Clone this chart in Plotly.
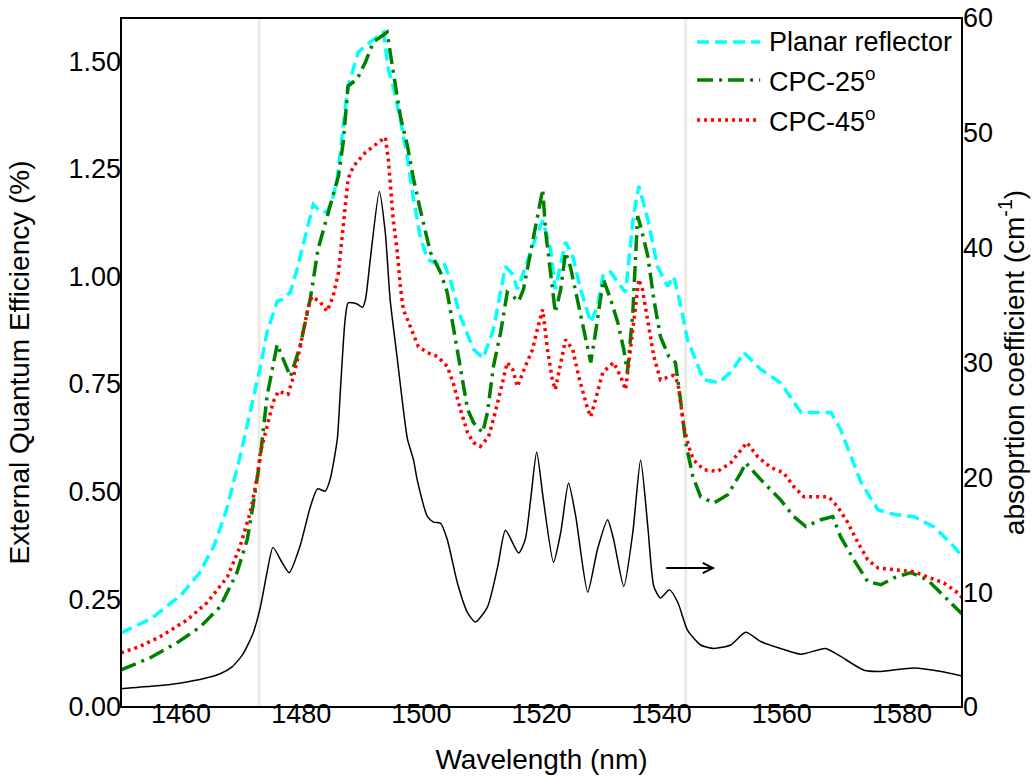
import plotly.graph_objects as go

# ---------------- data ----------------
wl_planar = [1450, 1455, 1460, 1463, 1465.5, 1467.5, 1469.8, 1471.5, 1473.2, 1474.3,
             1476, 1476.8, 1478.2, 1479.3, 1481, 1482, 1483.2, 1484.3, 1485.2, 1486,
             1487.7, 1488.2, 1489.5, 1491.5, 1493.7, 1494.5, 1495.3, 1496.5, 1497.7, 1498.7,
             1499.8, 1501, 1502.7, 1503.7, 1504.8, 1506.5, 1508.7, 1510.3, 1512, 1514,
             1515.2, 1516, 1517.7, 1519.3, 1520.2, 1521.5, 1522.3, 1524, 1525.2, 1526.5,
             1528.2, 1529.3, 1530.3, 1531.5, 1532.7, 1534, 1535.3, 1536.2, 1537.7, 1539.3,
             1541, 1542, 1543.2, 1544.3, 1547, 1549.5, 1551.5, 1553.7, 1556.5, 1559.8,
             1563.2, 1566, 1568.2, 1569.8, 1573.2, 1576, 1578.7, 1582, 1585.3, 1588.7, 1590]
eqe_planar = [0.172, 0.205, 0.26, 0.31, 0.375, 0.455, 0.58, 0.684, 0.79, 0.87,
              0.942, 0.946, 0.963, 1.016, 1.116, 1.167, 1.151, 1.149, 1.179, 1.226,
              1.435, 1.458, 1.521, 1.544, 1.567, 1.481, 1.442, 1.365, 1.272, 1.179,
              1.093, 1.040, 1.028, 1.033, 0.993, 0.907, 0.83, 0.81, 0.877, 1.023,
              1.005, 0.97, 1.04, 1.10, 1.13, 1.063, 0.97, 1.08, 1.047, 0.97,
              0.893, 0.93, 1.005, 1.01, 0.986, 0.963, 1.14, 1.21, 1.133, 1.023,
              0.977, 1.0, 0.93, 0.853, 0.76, 0.753, 0.777, 0.823, 0.784, 0.753,
              0.684, 0.684, 0.684, 0.644, 0.521, 0.458, 0.447, 0.442, 0.419, 0.372, 0.35]

wl_cpc25 = [1450, 1454.8, 1459.3, 1463.2, 1466.5, 1469.3, 1471, 1472, 1473.2, 1474.3,
            1476, 1477, 1478.2, 1479.8, 1481.5, 1482.8, 1484.8, 1486.2, 1487, 1487.8,
            1489.3, 1490.7, 1492, 1494.3, 1494.8, 1496.5, 1497.7, 1498.7, 1499.8, 1501.5,
            1503.2, 1504.3, 1505.3, 1506.5, 1507.7, 1508.7, 1510.2, 1511, 1512, 1513.2,
            1514.3, 1515.3, 1516.2, 1517, 1518.2, 1519.3, 1520.2, 1520.7, 1521.5, 1522.3,
            1523.2, 1524, 1524.8, 1526, 1527.3, 1528.2, 1529, 1529.8, 1530.3, 1531.5,
            1532.7, 1533.7, 1534.3, 1535.2, 1536, 1536.5, 1537.7, 1538.7, 1539.8, 1541.2,
            1542.3, 1543.2, 1544, 1545.2, 1546.5, 1548.7, 1551, 1553.2, 1554, 1556.5,
            1559.8, 1562, 1564, 1566.5, 1568.5, 1569.8, 1572, 1574.3, 1576.5, 1578.7,
            1581.5, 1584.3, 1586.5, 1590]
eqe_cpc25 = [0.086, 0.114, 0.149, 0.186, 0.233, 0.312, 0.388, 0.47, 0.581, 0.721,
             0.842, 0.807, 0.767, 0.837, 0.947, 1.063, 1.163, 1.233, 1.312, 1.442,
             1.458, 1.498, 1.544, 1.567, 1.521, 1.372, 1.302, 1.226, 1.156, 1.056,
             1.009, 0.963, 0.884, 0.791, 0.691, 0.66, 0.637, 0.684, 0.791, 0.87,
             0.963, 0.953, 0.942, 0.97, 1.056, 1.14, 1.202, 1.102, 1.009, 0.916,
             0.97, 1.056, 1.023, 0.947, 0.86, 0.8, 0.87, 0.953, 0.993, 0.947,
             0.893, 0.83, 0.777, 0.916, 1.14, 1.116, 1.047, 0.947, 0.86, 0.814,
             0.8, 0.707, 0.614, 0.535, 0.488, 0.474, 0.493, 0.544, 0.567, 0.528,
             0.481, 0.442, 0.419, 0.435, 0.442, 0.395, 0.342, 0.291, 0.284, 0.3,
             0.312, 0.295, 0.265, 0.216]

wl_cpc45 = [1450, 1453, 1456.5, 1461, 1464.3, 1467.7, 1469.8, 1471.5, 1472.7, 1473.2,
            1474.3, 1475.3, 1476.2, 1477.8, 1478.7, 1479.5, 1480.3, 1481.2, 1481.8, 1483.2,
            1484.3, 1485.3, 1486.2, 1486.8, 1487.3, 1487.8, 1488.7, 1490.7, 1492, 1494,
            1494.5, 1494.8, 1495.3, 1496, 1496.5, 1497, 1498.2, 1499.5, 1501, 1502.7,
            1504.3, 1505.3, 1506.5, 1507.7, 1508.7, 1509.8, 1511.2, 1512.3, 1513.5, 1514.3,
            1515.2, 1516, 1517.3, 1518.5, 1519.3, 1520.2, 1521, 1521.8, 1522.3, 1523.2,
            1524, 1525.2, 1526.2, 1527.7, 1528.2, 1529, 1530.2, 1532, 1533.2, 1534,
            1534.8, 1535.7, 1536.2, 1536.8, 1537.7, 1538.7, 1539.8, 1542, 1542.7, 1543.2,
            1543.7, 1544.5, 1545.3, 1547, 1549.3, 1551.5, 1553.2, 1554.2, 1556, 1558.2,
            1560.3, 1562, 1563.7, 1566.5, 1567.8, 1569.3, 1571, 1572.7, 1574.3, 1576,
            1578.7, 1582, 1584.3, 1587, 1589.3, 1590]
eqe_cpc45 = [0.126, 0.14, 0.163, 0.202, 0.242, 0.302, 0.372, 0.451, 0.535, 0.591,
             0.651, 0.707, 0.733, 0.726, 0.767, 0.814, 0.87, 0.93, 0.953, 0.94,
             0.919, 0.953, 1.009, 1.086, 1.156, 1.226, 1.256, 1.288, 1.302, 1.323,
             1.272, 1.209, 1.133, 1.056, 0.977, 0.923, 0.884, 0.837, 0.823, 0.814,
             0.791, 0.753, 0.691, 0.637, 0.614, 0.605, 0.628, 0.684, 0.753, 0.8,
             0.784, 0.744, 0.791, 0.83, 0.877, 0.923, 0.83, 0.76, 0.737, 0.8,
             0.853, 0.83, 0.767, 0.691, 0.674, 0.714, 0.777, 0.8, 0.767, 0.737,
             0.83, 0.94, 0.993, 0.97, 0.893, 0.814, 0.76, 0.77, 0.753, 0.707,
             0.651, 0.605, 0.574, 0.551, 0.547, 0.567, 0.598, 0.614, 0.581, 0.556,
             0.544, 0.512, 0.488, 0.488, 0.488, 0.465, 0.428, 0.381, 0.342, 0.323,
             0.319, 0.314, 0.302, 0.288, 0.265, 0.254]

wl_abs = [1450, 1455, 1460, 1464, 1466.5, 1468.5, 1470.3, 1472, 1473.2, 1474.3, 1475.3,
          1476.8, 1478, 1479.8, 1481.5, 1482.7, 1484, 1484.8, 1486, 1486.5, 1487.3,
          1487.8, 1488.5, 1489.3, 1490.2, 1490.7, 1491.5, 1493, 1494, 1494.8, 1496,
          1497, 1497.7, 1498.7, 1499.3, 1501, 1502, 1503.2, 1504.3, 1506, 1507.7,
          1509, 1511, 1512.7, 1514, 1516.2, 1517.3, 1518.2, 1519.2, 1520.3, 1522,
          1523.2, 1524.5, 1525.7, 1527.7, 1529.3, 1531, 1532, 1533.7, 1535.2, 1536.5,
          1537.7, 1538.7, 1539.8, 1541.3, 1542.7, 1544.3, 1546.5, 1548.7, 1551.5, 1554,
          1556.5, 1559.8, 1563.2, 1567.3, 1569.8, 1573.7, 1576.5, 1582, 1586.5, 1590]
abs_coef = [1.6, 1.8, 2.1, 2.5, 2.9, 3.5, 4.6, 6.45, 8.7, 11.7, 13.9,
            12.6, 11.7, 14.0, 17.4, 19.0, 18.8, 19.8, 23.3, 27.4, 33.7,
            35.2, 35.2, 35.1, 34.8, 35.5, 39.0, 44.9, 41.3, 35.5, 30.3,
            25.9, 23.3, 21.5, 19.8, 16.6, 16.1, 16.0, 14.6, 10.8, 8.2,
            7.4, 8.7, 12.2, 15.4, 13.4, 14.6, 18.1, 22.2, 18.1, 12.6,
            15.2, 19.5, 16.6, 10.0, 13.7, 16.3, 14.6, 10.5, 15.2, 21.5,
            15.7, 10.5, 9.5, 10.2, 9.1, 6.7, 5.4, 5.1, 5.4, 6.5,
            5.7, 5.1, 4.6, 5.1, 4.4, 3.2, 3.1, 3.4, 3.1, 2.7]

x_ticks = [1460, 1480, 1500, 1520, 1540, 1560, 1580]
eqe_ticks = [0.0, 0.25, 0.5, 0.75, 1.0, 1.25, 1.5]
abs_ticks = [0, 10, 20, 30, 40, 50, 60]

series_names = ["Planar reflector", "CPC-25<sup>o</sup>", "CPC-45<sup>o</sup>"]
band_edges = [1473, 1544]

# ---------------- styles ----------------
FONT = "Arial, 'Liberation Sans', sans-serif"
CYAN, GREEN, RED = "#00FFFF", "#008000", "#FF0000"
styles = [
    dict(color=CYAN, width=3.5, dash="12px,6px"),
    dict(color=GREEN, width=3.5, dash="16px,6px,3px,6px"),
    dict(color=RED, width=3.5, dash="3px,4px"),
]

fig = go.Figure()

fig.add_trace(go.Scatter(x=wl_abs, y=abs_coef, yaxis="y2", mode="lines",
                         line=dict(color="black", width=1.5, shape="spline", smoothing=0.6),
                         name="absorption", showlegend=False))

for xs, ys, name, st in zip([wl_planar, wl_cpc25, wl_cpc45],
                            [eqe_planar, eqe_cpc25, eqe_cpc45],
                            series_names, styles):
    fig.add_trace(go.Scatter(x=xs, y=ys, mode="lines", name=name, line=st,
                             showlegend=False))

shapes = []
for xb in band_edges:
    shapes.append(dict(type="line", xref="x", yref="paper", x0=xb, x1=xb, y0=0, y1=1,
                       line=dict(color="#EEEBE2", width=3), layer="below"))

# plot frame (axis lines)
shapes.append(dict(type="rect", xref="paper", yref="paper", x0=0, x1=1, y0=0, y1=1,
                   line=dict(color="black", width=2), fillcolor="rgba(0,0,0,0)",
                   layer="above"))

# custom legend (long line samples like the original)
leg_rows = [0.965, 0.910, 0.852]
annotations = []
for yrow, name, st in zip(leg_rows, series_names, styles):
    shapes.append(dict(type="line", xref="paper", yref="paper", x0=0.685, x1=0.760,
                       y0=yrow, y1=yrow, line=st))
    annotations.append(dict(xref="paper", yref="paper", x=0.768, y=yrow, text=name,
                            showarrow=False, xanchor="left", yanchor="middle",
                            font=dict(family=FONT, size=27, color="black")))

# arrow pointing to the right axis
annotations.append(dict(x=1548.9, y=12.1, xref="x", yref="y2", ax=1540.5, ay=12.1,
                        axref="x", ayref="y2", text="", showarrow=True,
                        arrowhead=5, arrowsize=1, arrowwidth=2, arrowcolor="black"))

axis_common = dict(showline=False, showgrid=False, zeroline=False, ticks="",
                   automargin=False, anchor="free",
                   tickfont=dict(family=FONT, size=27, color="black"))

fig.update_layout(
    width=1033, height=778,
    margin=dict(l=121, r=71, t=18, b=71, autoexpand=False),
    plot_bgcolor="white", paper_bgcolor="white",
    font=dict(family=FONT, color="black"),
    showlegend=False,
    xaxis=dict(range=[1450, 1590], tickvals=x_ticks, position=0.0175,
               title=dict(text="Wavelength (nm)", font=dict(family=FONT, size=28), standoff=21),
               **axis_common),
    yaxis=dict(range=[0, 1.6], tickvals=eqe_ticks, tickformat=".2f", position=0,
               title=dict(text="External Quantum Efficiency (%)", font=dict(family=FONT, size=28),
                          standoff=29),
               **axis_common),
    yaxis2=dict(range=[0, 60], tickvals=abs_ticks, overlaying="y", side="right",
                position=1,
                title=dict(text="absoprtion coefficient (cm<sup>-1</sup>)",
                           font=dict(family=FONT, size=28), standoff=12),
                **axis_common),
    shapes=shapes,
    annotations=annotations,
)

fig.write_html("out.html", config={"displayModeBar": False},
               post_script="document.body.style.margin='0';")
